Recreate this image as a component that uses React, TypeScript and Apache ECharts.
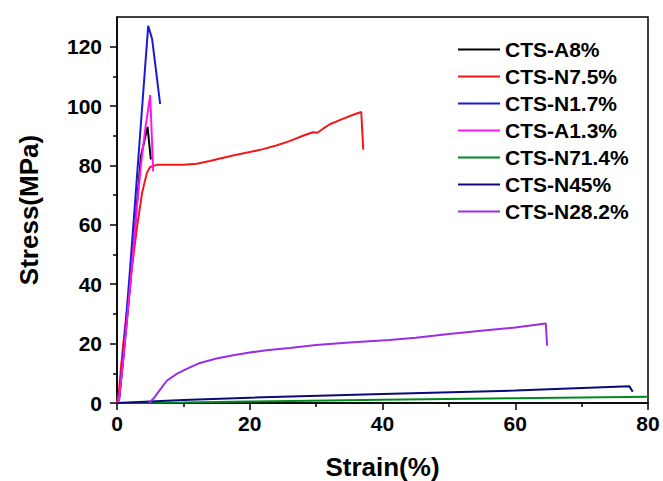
import React, { useEffect, useRef } from "react";
import * as echarts from "echarts";

const seriesNames = [
  "CTS-A8%",
  "CTS-N7.5%",
  "CTS-N1.7%",
  "CTS-A1.3%",
  "CTS-N71.4%",
  "CTS-N45%",
  "CTS-N28.2%",
];

const colors = ["#000000", "#f21818", "#1a1ad6", "#ff14ef", "#008a1e", "#0a0a78", "#9a2ee6"];

const dataA8: number[][] = [
  [0, 0], [0.3, 1], [1, 16], [2, 40], [3, 67], [3.6, 83], [4.6, 93], [5.1, 82],
];

const dataN75: number[][] = [
  [0, 0], [0.3, 4], [0.6, 12], [1, 21], [2, 41], [3, 59], [3.8, 71], [4.5, 77.5], [5, 79.5],
  [6, 80.2], [8, 80.2], [10, 80.2], [12, 80.6], [14, 81.5], [16, 82.6], [18, 83.6], [20, 84.5],
  [22, 85.5], [24, 86.7], [26, 88.2], [28, 90], [29.5, 91.2], [30.2, 91], [31, 92.3], [32, 93.8],
  [34, 95.7], [36, 97.4], [36.8, 98], [37.1, 85.3],
];

const dataN17: number[][] = [
  [0, 0], [0.3, 1], [1, 18], [2, 46], [3, 76], [4, 106], [4.7, 127], [5.3, 122.5], [6.5, 100.7],
];

const dataA13: number[][] = [
  [0, 0], [0.3, 1], [1, 16], [2, 40], [3, 66], [3.6, 80], [4.3, 93], [5, 103.7], [5.45, 78],
];

const dataN714: number[][] = [
  [0, 0], [10, 0.2], [20, 0.5], [40, 1.1], [60, 1.6], [80, 2.1],
];

const dataN45: number[][] = [
  [0, 0], [10, 1.0], [20, 1.8], [40, 3.0], [60, 4.2], [77.2, 5.6], [77.7, 3.8],
];

const dataN282: number[][] = [
  [4.8, 0], [5.5, 1.5], [6.5, 4.5], [7.5, 7.5], [9, 9.8], [10.5, 11.5], [12.5, 13.5], [15, 15],
  [17.5, 16.1], [20, 17], [22.5, 17.8], [26, 18.5], [30, 19.5], [35, 20.4], [41, 21.2], [45, 22],
  [50, 23.2], [56, 24.6], [60, 25.4], [64.6, 26.8], [64.8, 19.3],
];

const allData = [dataA8, dataN75, dataN17, dataA13, dataN714, dataN45, dataN282];

const yMajorTicks = [0, 20, 40, 60, 80, 100, 120];
const yMinorTicks = [10, 30, 50, 70, 90, 110];

const FONT = "'Liberation Sans', Arial, sans-serif";

export default function App() {
  const ref = useRef<HTMLDivElement>(null);

  useEffect(() => {
    if (!ref.current) return;
    const chart = echarts.init(ref.current, undefined, { renderer: "svg" });
    const axisLine = { show: true, lineStyle: { color: "#000", width: 1.5 } };
    chart.setOption({
      animation: false,
      backgroundColor: "#fff",
      grid: {
        left: 117,
        right: 15,
        top: 17,
        bottom: 78,
        outerBoundsMode: "none",
        containLabel: false,
        show: true,
        borderColor: "#000",
        borderWidth: 1.5,
        backgroundColor: "transparent",
      },
      legend: {
        orient: "vertical",
        left: 453,
        top: 34,
        itemWidth: 42,
        itemHeight: 2,
        itemGap: 6,
        icon: "rect",
        data: seriesNames,
        textStyle: { fontFamily: FONT, fontWeight: "bold", fontSize: 21, color: "#000" },
      },
      xAxis: {
        type: "value",
        min: 0,
        max: 80,
        interval: 20,
        name: "Strain(%)",
        nameLocation: "middle",
        nameGap: 51,
        nameTextStyle: { fontFamily: FONT, fontWeight: "bold", fontSize: 26, color: "#000" },
        axisLine,
        axisTick: { show: true, length: 7, lineStyle: { color: "#000", width: 1.5 } },
        minorTick: { show: true, splitNumber: 2, length: 4, lineStyle: { color: "#000", width: 1.5 } },
        splitLine: { show: false },
        axisLabel: { margin: 10, fontFamily: FONT, fontWeight: "bold", fontSize: 21, color: "#000" },
      },
      yAxis: [
        {
          type: "value",
          min: 0,
          max: 130,
          interval: 20,
          name: "Stress(MPa)",
          nameLocation: "middle",
          nameGap: 75,
          nameTextStyle: { fontFamily: FONT, fontWeight: "bold", fontSize: 26, color: "#000" },
          axisLine,
          axisTick: {
            show: true,
            length: 7,
            customValues: yMajorTicks,
            lineStyle: { color: "#000", width: 1.5 },
          },
          splitLine: { show: false },
          axisLabel: {
            margin: 15,
            customValues: yMajorTicks,
            fontFamily: FONT,
            fontWeight: "bold",
            fontSize: 21,
            color: "#000",
          },
        },
        {
          type: "value",
          position: "left",
          min: 0,
          max: 130,
          axisLine: { show: false },
          axisTick: {
            show: true,
            length: 4,
            customValues: yMinorTicks,
            lineStyle: { color: "#000", width: 1.5 },
          },
          axisLabel: { show: false },
          splitLine: { show: false },
        },
      ],
      series: seriesNames.map((name, i) => ({
        name,
        type: "line",
        data: allData[i],
        yAxisIndex: 0,
        showSymbol: false,
        symbol: "none",
        smooth: false,
        color: colors[i],
        lineStyle: { width: 2, color: colors[i] },
      })),
    });
    return () => chart.dispose();
  }, []);

  return <div ref={ref} style={{ width: 663, height: 481, position: "absolute", left: 0, top: 0 }} />;
}
